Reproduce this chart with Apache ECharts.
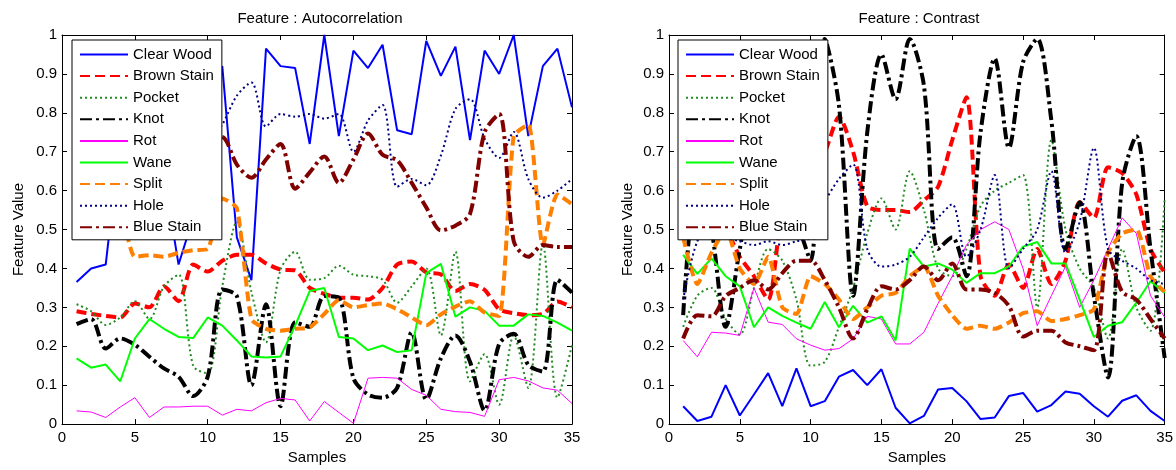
<!DOCTYPE html>
<html>
<head>
<meta charset="UTF-8">
<title>Feature plots</title>
<style>
  html, body { margin: 0; padding: 0; background: #fff; }
  #main { width: 1176px; height: 470px; }
</style>
</head>
<body>
<div id="main"></div>
<script src="https://cdn.jsdelivr.net/npm/echarts@6/dist/echarts.min.js"></script>
<script>
var samples = [1,2,3,4,5,6,7,8,9,10,11,12,13,14,15,16,17,18,19,20,21,22,23,24,25,26,27,28,29,30,31,32,33,34,35];
var seriesNames = ['Clear Wood','Brown Stain','Pocket','Knot','Rot','Wane','Split','Hole','Blue Stain'];
var panelTitles = ['Feature : Autocorrelation', 'Feature : Contrast'];

// Feature : Autocorrelation
var acClearWood  = [0.365,0.40,0.41,0.74,0.85,0.80,0.64,0.41,0.53,0.78,0.92,0.48,0.37,0.965,0.92,0.915,0.72,1.0,0.74,0.96,0.915,0.975,0.755,0.745,0.985,0.895,0.97,0.73,0.96,0.90,1.0,0.74,0.92,0.965,0.814];
var acBrownStain = [0.29,0.283,0.278,0.274,0.31,0.30,0.354,0.316,0.41,0.392,0.42,0.435,0.435,0.413,0.397,0.395,0.35,0.335,0.325,0.325,0.32,0.35,0.41,0.418,0.39,0.385,0.342,0.36,0.345,0.295,0.285,0.28,0.283,0.315,0.30];
var acPocket     = [0.308,0.29,0.255,0.274,0.316,0.27,0.354,0.384,0.15,0.13,0.354,0.52,0.34,0.21,0.397,0.443,0.371,0.375,0.407,0.384,0.38,0.371,0.312,0.354,0.40,0.228,0.443,0.11,0.18,0.05,0.228,0.093,0.464,0.068,0.203];
var acKnot       = [0.257,0.27,0.194,0.22,0.204,0.173,0.143,0.122,0.072,0.122,0.346,0.329,0.10,0.308,0.046,0.262,0.25,0.329,0.325,0.118,0.076,0.068,0.093,0.236,0.063,0.169,0.228,0.16,0.035,0.206,0.232,0.152,0.135,0.371,0.338];
var acRot        = [0.034,0.031,0.017,0.044,0.068,0.017,0.044,0.044,0.046,0.046,0.023,0.038,0.034,0.055,0.066,0.062,0.008,0.058,0.03,0.002,0.118,0.12,0.118,0.089,0.074,0.038,0.032,0.03,0.02,0.114,0.12,0.111,0.093,0.087,0.053];
var acWane       = [0.169,0.145,0.153,0.11,0.22,0.27,0.245,0.224,0.221,0.274,0.253,0.215,0.174,0.171,0.174,0.253,0.342,0.35,0.224,0.22,0.19,0.202,0.185,0.19,0.388,0.412,0.276,0.30,0.291,0.253,0.253,0.282,0.278,0.261,0.24];
var acSplit      = [0.52,0.55,0.57,0.55,0.43,0.434,0.43,0.44,0.447,0.45,0.58,0.555,0.27,0.245,0.24,0.245,0.249,0.283,0.319,0.30,0.306,0.31,0.295,0.274,0.254,0.282,0.302,0.316,0.287,0.278,0.74,0.77,0.46,0.59,0.565];
var acHole       = [0.70,0.72,0.75,0.78,0.76,0.74,0.72,0.70,0.68,0.72,0.77,0.844,0.878,0.765,0.797,0.79,0.797,0.785,0.797,0.70,0.78,0.82,0.61,0.63,0.614,0.69,0.81,0.835,0.734,0.684,0.751,0.63,0.582,0.60,0.63];
var acBlueStain  = [0.60,0.62,0.65,0.68,0.70,0.66,0.70,0.72,0.70,0.74,0.738,0.667,0.633,0.68,0.72,0.605,0.647,0.688,0.62,0.68,0.747,0.692,0.678,0.62,0.557,0.498,0.51,0.54,0.75,0.797,0.47,0.43,0.46,0.455,0.455];

// Feature : Contrast
var ctClearWood  = [0.046,0.008,0.019,0.10,0.022,0.076,0.131,0.046,0.143,0.046,0.059,0.122,0.139,0.10,0.141,0.042,0.002,0.021,0.089,0.093,0.059,0.013,0.017,0.072,0.08,0.032,0.049,0.084,0.078,0.046,0.019,0.06,0.074,0.034,0.008];
var ctBrownStain = [0.55,0.56,0.52,0.50,0.43,0.38,0.32,0.55,0.62,0.66,0.70,0.79,0.70,0.56,0.55,0.55,0.545,0.575,0.61,0.73,0.84,0.38,0.33,0.41,0.35,0.45,0.36,0.42,0.57,0.53,0.66,0.645,0.59,0.45,0.39];
var ctPocket     = [0.25,0.33,0.35,0.27,0.23,0.35,0.45,0.42,0.32,0.15,0.16,0.25,0.35,0.49,0.58,0.50,0.65,0.55,0.40,0.38,0.45,0.56,0.60,0.62,0.64,0.30,0.73,0.50,0.40,0.35,0.22,0.45,0.30,0.24,0.58];
var ctKnot       = [0.28,0.62,0.50,0.25,0.45,0.62,0.60,0.58,0.52,0.42,0.99,0.82,0.33,0.75,0.95,0.835,0.99,0.87,0.45,0.48,0.38,0.75,0.94,0.71,0.93,0.99,0.78,0.45,0.57,0.33,0.12,0.62,0.74,0.45,0.17];
var ctRot        = [0.215,0.173,0.236,0.234,0.228,0.35,0.262,0.256,0.219,0.203,0.19,0.194,0.219,0.277,0.27,0.206,0.206,0.236,0.31,0.38,0.46,0.50,0.52,0.50,0.40,0.253,0.33,0.405,0.30,0.37,0.45,0.53,0.49,0.33,0.275];
var ctWane       = [0.435,0.386,0.426,0.38,0.354,0.249,0.30,0.278,0.261,0.245,0.314,0.249,0.304,0.261,0.277,0.215,0.451,0.405,0.413,0.397,0.363,0.388,0.388,0.405,0.456,0.468,0.413,0.413,0.32,0.224,0.253,0.262,0.312,0.367,0.337];
var ctSplit      = [0.48,0.36,0.44,0.50,0.40,0.36,0.43,0.30,0.283,0.38,0.36,0.32,0.27,0.30,0.33,0.337,0.38,0.405,0.33,0.28,0.245,0.253,0.245,0.261,0.285,0.29,0.265,0.27,0.28,0.295,0.44,0.49,0.50,0.38,0.34];
var ctHole       = [0.32,0.47,0.50,0.48,0.47,0.46,0.47,0.46,0.47,0.48,0.57,0.63,0.667,0.45,0.405,0.41,0.43,0.48,0.53,0.565,0.43,0.50,0.64,0.40,0.45,0.50,0.65,0.44,0.52,0.71,0.45,0.42,0.40,0.37,0.36];
var ctBlueStain  = [0.22,0.28,0.277,0.329,0.35,0.37,0.346,0.388,0.42,0.42,0.37,0.30,0.22,0.295,0.354,0.346,0.37,0.405,0.37,0.413,0.346,0.346,0.337,0.304,0.225,0.24,0.24,0.21,0.20,0.19,0.44,0.34,0.32,0.27,0.22];

var acData = [acClearWood, acBrownStain, acPocket, acKnot, acRot, acWane, acSplit, acHole, acBlueStain];
var ctData = [ctClearWood, ctBrownStain, ctPocket, ctKnot, ctRot, ctWane, ctSplit, ctHole, ctBlueStain];

// matlab-ish line specs
var specs = {
  'Clear Wood':  { color: '#0000ff', width: 2,   type: 'solid',        smooth: false },
  'Brown Stain': { color: '#ff0000', width: 4,   type: [10, 5],        smooth: 0.25 },
  'Pocket':      { color: '#228b22', width: 2,   type: [2, 3],         smooth: 0.3 },
  'Knot':        { color: '#000000', width: 4,   type: [12, 4, 3, 4],  smooth: 0.3 },
  'Rot':         { color: '#ff00ff', width: 1,   type: 'solid',        smooth: false },
  'Wane':        { color: '#00ff00', width: 2,   type: 'solid',        smooth: false },
  'Split':       { color: '#ff8000', width: 4,   type: [10, 5],        smooth: 0.2 },
  'Hole':        { color: '#000080', width: 2,   type: [2, 3],         smooth: 0.3 },
  'Blue Stain':  { color: '#800000', width: 4,   type: [12, 4, 3, 4],  smooth: 0.3 }
};

var font = "'Liberation Sans', Arial, sans-serif";
var fs = 15;

function makeSeries(arrs, idx) {
  return seriesNames.map(function (name, i) {
    var s = specs[name];
    return {
      name: name,
      type: 'line',
      xAxisIndex: idx * 2,
      yAxisIndex: idx * 2,
      symbol: 'none',
      smooth: s.smooth,
      data: samples.map(function (x, k) { return [x, arrs[i][k]]; }),
      lineStyle: { color: s.color, width: s.width, type: s.type },
      itemStyle: { color: s.color, opacity: 0 }
    };
  });
}

function xAxes(g) {
  var base = {
    gridIndex: g, type: 'value', min: 0, max: 35, interval: 5,
    axisLine: { onZero: false, lineStyle: { color: '#000', width: 1 } },
    axisTick: { inside: true, length: 5, lineStyle: { color: '#000' } },
    splitLine: { show: false }
  };
  return [
    Object.assign({}, base, {
      position: 'bottom', name: 'Samples', nameLocation: 'middle', nameGap: 25,
      nameTextStyle: { color: '#000', fontSize: fs, fontFamily: font },
      axisLabel: { color: '#000', fontSize: fs, fontFamily: font, margin: 6 }
    }),
    Object.assign({}, base, { position: 'top', axisLabel: { show: false } })
  ];
}

function yAxes(g, gap) {
  var base = {
    gridIndex: g, type: 'value', min: 0, max: 1, interval: 0.1,
    axisLine: { onZero: false, lineStyle: { color: '#000', width: 1 } },
    axisTick: { inside: true, length: 5, lineStyle: { color: '#000' } },
    splitLine: { show: false }
  };
  return [
    Object.assign({}, base, {
      position: 'left', name: 'Feature Value', nameLocation: 'middle', nameRotate: 90, nameGap: gap,
      nameTextStyle: { color: '#000', fontSize: fs, fontFamily: font },
      axisLabel: { color: '#000', fontSize: fs, fontFamily: font, margin: 5 }
    }),
    Object.assign({}, base, { position: 'right', axisLabel: { show: false } })
  ];
}

function legendAt(left) {
  return {
    data: seriesNames, orient: 'vertical', left: left, top: 40,
    selectedMode: false,
    backgroundColor: '#fff', borderColor: '#000', borderWidth: 1,
    padding: [7, 8, 5, 7],
    itemWidth: 48, itemHeight: 14, itemGap: 6.6,
    itemStyle: { opacity: 0 },
    textStyle: { color: '#000', fontSize: fs, fontFamily: font },
    z: 10
  };
}

var chart = echarts.init(document.getElementById('main'));
chart.setOption({
  animation: false,
  backgroundColor: '#fff',
  title: [
    { text: panelTitles[0], left: 315, top: 6, textAlign: 'center',
      textStyle: { color: '#000', fontSize: fs, fontWeight: 'normal', fontFamily: font } },
    { text: panelTitles[1], left: 914, top: 6, textAlign: 'center',
      textStyle: { color: '#000', fontSize: fs, fontWeight: 'normal', fontFamily: font } }
  ],
  grid: [
    { left: 62, top: 35, width: 510, height: 395 },
    { left: 669, top: 35, width: 496, height: 395 }
  ],
  legend: [legendAt(72), legendAt(678)],
  xAxis: xAxes(0).concat(xAxes(1)),
  yAxis: yAxes(0, 36).concat(yAxes(1, 34)),
  series: makeSeries(acData, 0).concat(makeSeries(ctData, 1))
});
</script>
</body>
</html>
